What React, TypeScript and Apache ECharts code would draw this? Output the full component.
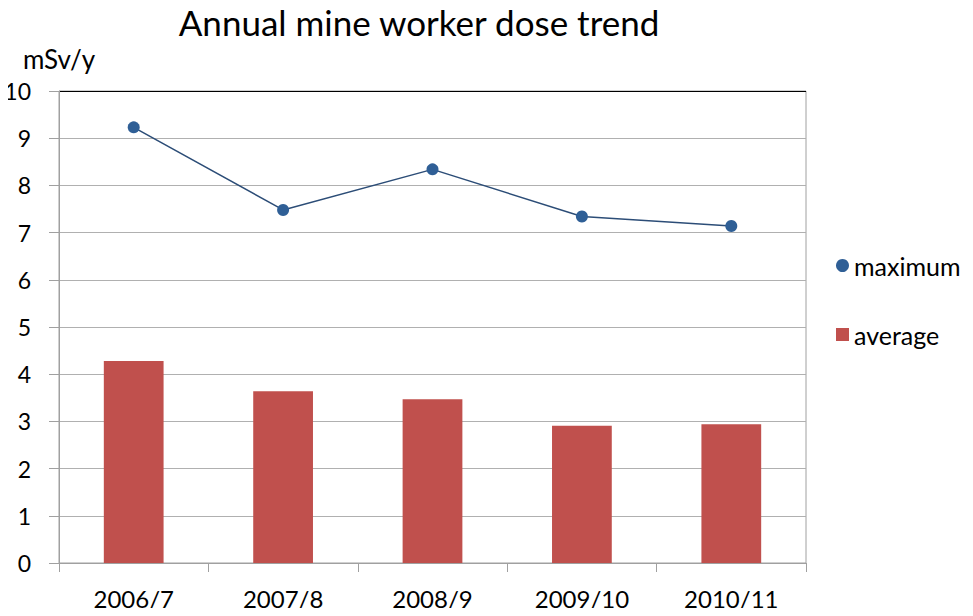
import React, { useEffect, useRef } from "react";
import * as echarts from "echarts";

const categories = ["2006/7", "2007/8", "2008/9", "2009/10", "2010/11"];
const maximumValues = [9.23, 7.48, 8.34, 7.34, 7.14];
const averageValues = [4.28, 3.64, 3.47, 2.91, 2.94];
const titleText = "Annual mine worker dose trend";
const unitText = "mSv/y";

const FONT = "Lato";

export default function App() {
  const ref = useRef<HTMLDivElement>(null);
  useEffect(() => {
    if (!ref.current) return;
    const chart = echarts.init(ref.current, null, { renderer: "svg" });
    const splitColors = ["#b0b0b0", "#b0b0b0", "#b0b0b0", "#b0b0b0", "#b0b0b0", "#b0b0b0", "#b0b0b0", "#b0b0b0", "#b0b0b0", "#b0b0b0", "#000000"];
    chart.setOption({
      animation: false,
      backgroundColor: "#ffffff",
      textStyle: { fontFamily: FONT },
      title: {
        text: titleText,
        left: 419,
        textAlign: "center",
        top: 4,
        padding: 0,
        textStyle: { fontFamily: FONT, fontSize: 35, fontWeight: "normal", color: "#000" },
      },
      legend: {
        orient: "vertical",
        left: 831,
        top: 248,
        itemGap: 44,
        itemWidth: 13,
        itemHeight: 13,
        textStyle: { fontFamily: FONT, fontSize: 25, color: "#000" },
        data: [
          { name: "maximum", icon: "circle" },
          { name: "average", icon: "rect" },
        ],
      },
      grid: {
        left: 59,
        right: 167,
        top: 91,
        bottom: 53,
        show: true,
        borderColor: "#a0a0a0",
        borderWidth: 1,
        containLabel: false,
      },
      xAxis: {
        type: "category",
        data: categories,
        boundaryGap: true,
        axisLine: { lineStyle: { color: "#a0a0a0", width: 1 } },
        axisTick: { show: true, length: 9, lineStyle: { color: "#a0a0a0" } },
        axisLabel: { fontFamily: FONT, fontSize: 24, color: "#000", margin: 23 },
      },
      yAxis: {
        type: "value",
        min: 0,
        max: 10,
        interval: 1,
        name: unitText,
        nameLocation: "end",
        nameGap: 19,
        nameTextStyle: { fontFamily: FONT, fontSize: 26, color: "#000" },
        axisLine: { show: true, lineStyle: { color: "#a0a0a0", width: 1 } },
        axisTick: { show: true, length: 10, lineStyle: { color: "#a0a0a0" } },
        axisLabel: { fontFamily: FONT, fontSize: 23, color: "#000", margin: 28 },
        splitLine: { show: true, lineStyle: { color: splitColors, width: 1 } },
      },
      series: [
        {
          name: "average",
          type: "bar",
          data: averageValues,
          barWidth: "40%",
          itemStyle: { color: "#c0504d" },
          z: 2,
        },
        {
          name: "maximum",
          type: "line",
          data: maximumValues,
          symbol: "circle",
          symbolSize: 12,
          itemStyle: { color: "#2f5f96" },
          lineStyle: { color: "#2c4d77", width: 1.5 },
          z: 3,
        },
      ],
    });
    return () => chart.dispose();
  }, []);
  return <div ref={ref} style={{ width: 973, height: 616, margin: -8 }} />;
}
